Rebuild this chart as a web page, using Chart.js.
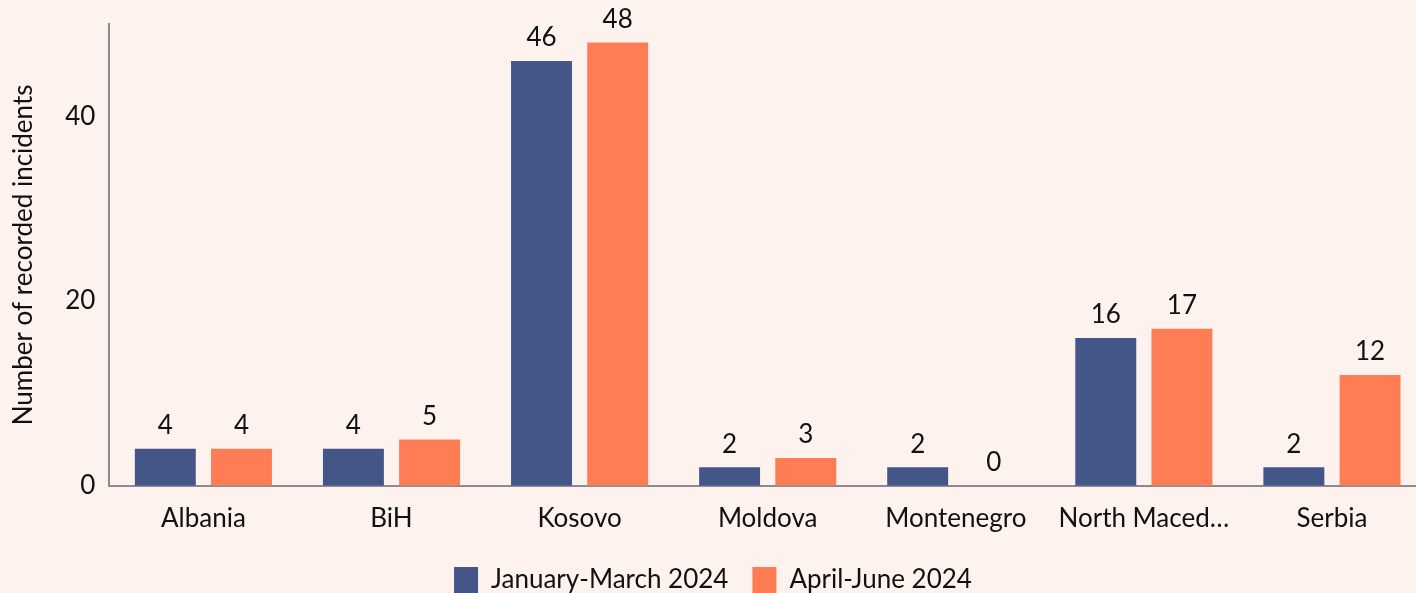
<!DOCTYPE html>
<html><head><meta charset="utf-8">
<script src="https://cdn.jsdelivr.net/npm/chart.js@4/dist/chart.umd.min.js"></script>
<style>
html,body{margin:0;padding:0;background:#fdf2ee;overflow:hidden;width:1416px;height:593px;}
#wrap{position:absolute;left:0;top:0;width:1426px;height:603px;}
</style></head>
<body><div id="wrap"><canvas id="c"></canvas></div>
<script>
const categories = ["Albania","BiH","Kosovo","Moldova","Montenegro","North Maced\u2026","Serbia"];
const seriesNames = ["January-March 2024","April-June 2024"];
const janMar = [4,4,46,2,2,16,2];
const aprJun = [4,5,48,3,0,17,12];
const yTicks = [0,20,40];

const valueLabels = {
  id:'valueLabels',
  afterDatasetsDraw(chart){
    const ctx = chart.ctx;
    ctx.save();
    ctx.font = '26px Lato';
    ctx.fillStyle = '#111';
    ctx.textAlign = 'center';
    ctx.textBaseline = 'bottom';
    chart.data.datasets.forEach((ds,i)=>{
      chart.getDatasetMeta(i).data.forEach((bar,j)=>{
        ctx.fillText(String(ds.data[j]), bar.x, bar.y - 10);
      });
    });
    ctx.restore();
  }
};

new Chart(document.getElementById('c'), {
  type:'bar',
  data:{
    labels: categories,
    datasets:[
      {label:seriesNames[0], data:janMar, backgroundColor:'#445587'},
      {label:seriesNames[1], data:aprJun, backgroundColor:'#ff7d55'}
    ]
  },
  options:{
    responsive:true, maintainAspectRatio:false, animation:false,
    layout:{padding:{left:0,right:0,top:24,bottom:0}},
    datasets:{bar:{categoryPercentage:0.81, barPercentage:0.80}},
    plugins:{
      legend:{position:'bottom', labels:{font:{family:'Lato',size:26}, color:'#111', boxWidth:24, boxHeight:26, padding:24}},
      tooltip:{enabled:false}
    },
    scales:{
      x:{grid:{display:false}, border:{color:'#8a8a90', width:2},
         ticks:{font:{family:'Lato',size:26}, color:'#111', padding:9, autoSkip:false, maxRotation:0}},
      y:{min:0, max:50, grid:{display:false}, border:{color:'#8a8a90', width:2},
         afterBuildTicks(axis){ axis.ticks = yTicks.map(v=>({value:v})); },
         ticks:{font:{family:'Lato',size:26}, color:'#111', padding:6},
         title:{display:true, text:'Number of recorded incidents', font:{family:'Lato',size:26}, color:'#111', padding:{top:8,bottom:20}}}
    }
  },
  plugins:[valueLabels]
});
</script></body></html>
